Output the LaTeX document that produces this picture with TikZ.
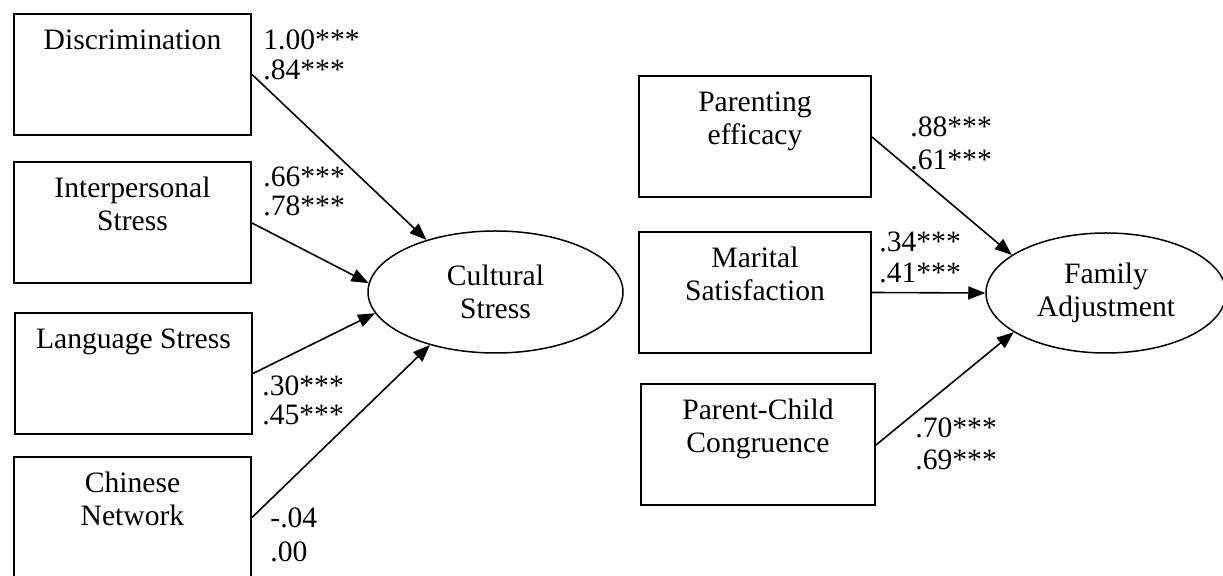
\documentclass[tikz,border=0pt]{standalone}
\usepackage{fontspec}
\setmainfont{Liberation Serif}
\usetikzlibrary{arrows.meta,shapes.geometric}
\tikzset{
  box/.style={draw,line width=1pt,minimum width=118.5pt,minimum height=60.5pt,inner sep=0pt},
  oval/.style={ellipse,draw,line width=0.75pt,inner sep=0pt,align=center},
  boxtext/.style={anchor=north,inner sep=0pt,align=center},
  coef/.style={anchor=west,inner sep=0pt},
  link/.style={line width=0.8pt,-{Triangle[length=8.5pt,width=6.5pt]}}
}
\begin{document}
\begin{tikzpicture}[x=0.5pt,y=-0.5pt,font=\fontsize{14.8}{16.5}\selectfont]
  \useasboundingbox (0,0) rectangle (1223,576);
  % indicators of cultural stress
  \node[box] (disc) at (132.5,74.5) {};
  \node[box] (inter) at (132.5,223) {};
  \node[box] (lang) at (133.5,373.5) {};
  \node[box] (chin) at (132.5,517.5) {};
  \node[boxtext] (disc-t) at ([yshift=-6.5pt]disc.north) {\strut Discrimination};
  \node[boxtext] (inter-t) at ([yshift=-6.5pt]inter.north) {\strut Interpersonal\\Stress};
  \node[boxtext] (lang-t) at ([yshift=-6.5pt]lang.north) {\strut Language Stress};
  \node[boxtext] (chin-t) at ([yshift=-6.5pt]chin.north) {\strut Chinese\\Network};
  \node[oval,minimum width=127.5pt,minimum height=61pt] (cs) at (495.5,292) {Cultural\\Stress};
  % indicators of family adjustment
  \node[box,minimum width=116pt] (par) at (755,137) {};
  \node[box,minimum width=116pt] (mar) at (755,292.5) {};
  \node[box,minimum width=117pt] (pcc) at (758,445) {};
  \node[boxtext] (par-t) at ([yshift=-6.5pt]par.north) {\strut Parenting\\efficacy};
  \node[boxtext] (mar-t) at ([yshift=-6.5pt]mar.north) {\strut Marital\\Satisfaction};
  \node[boxtext] (pcc-t) at ([yshift=-6.5pt]pcc.north) {\strut Parent-Child\\Congruence};
  \node[oval,minimum width=120pt,minimum height=60pt] (fa) at (1106,293) {Family\\Adjustment};
  % paths
  \draw[link] (disc.east) -- (cs.143);
  \draw[link] (inter.east) -- (cs.176);
  \draw[link] (lang.east) -- (cs.190);
  \draw[link] (chin.east) -- (cs.219);
  \draw[link] (par.east) -- (fa.158);
  \draw[link] (mar.east) -- (fa.west);
  \draw[link] (pcc.east) -- (fa.203);
  % loadings
  \node[coef] (c1a) at (263,40) {1.00***};
  \node[coef] (c1b) at (263,70) {.84***};
  \node[coef] (c2a) at (263,177) {.66***};
  \node[coef] (c2b) at (263,206) {.78***};
  \node[coef] (c3a) at (262,386) {.30***};
  \node[coef] (c3b) at (262,415) {.45***};
  \node[coef] (c4a) at (270,518) {-.04};
  \node[coef] (c4b) at (270,552) {.00};
  \node[coef] (c5a) at (910,127) {.88***};
  \node[coef] (c5b) at (910,160) {.61***};
  \node[coef] (c6a) at (879,242) {.34***};
  \node[coef] (c6b) at (879,273) {.41***};
  \node[coef] (c7a) at (915,428) {.70***};
  \node[coef] (c7b) at (915,460) {.69***};
\end{tikzpicture}
\end{document}
